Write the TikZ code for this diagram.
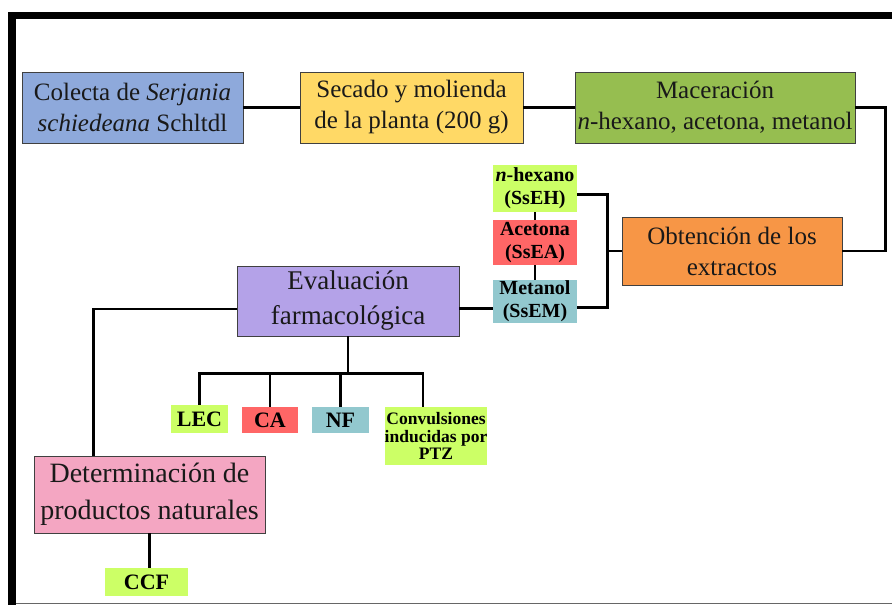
\documentclass[tikz,border=0pt]{standalone}
\usepackage{fontspec}
\setmainfont{Liberation Serif}
\usetikzlibrary{positioning}

\begin{document}
\begin{tikzpicture}[x=1pt,y=-1pt,thick,
	caja/.style={draw=black!75,line width=0.9pt,align=center,inner sep=0pt,text=black!90,font=\fontsize{25}{31}\selectfont},
	grande/.style={caja,font=\fontsize{27}{35}\selectfont},
	etiqueta/.style={align=center,inner sep=0pt,font=\bfseries\fontsize{20}{23}\selectfont},
	linea/.style={line width=2.4pt}]

\definecolor{azul}{RGB}{142,169,219}
\definecolor{amarillo}{RGB}{255,217,102}
\definecolor{oliva}{RGB}{150,190,80}
\definecolor{naranja}{RGB}{247,150,70}
\definecolor{lavanda}{RGB}{180,162,232}
\definecolor{rosa}{RGB}{244,166,194}
\definecolor{lima}{RGB}{204,255,102}
\definecolor{rojo}{RGB}{255,102,102}
\definecolor{celeste}{RGB}{146,200,206}

\def\kasten#1#2#3#4#5#6#7{
	\node[#6,minimum width={(#4-#2)*1pt},minimum height={(#5-#3)*1pt}]
		(#1) at ({(#2+#4)/2},{(#3+#5)/2}) {#7};
}

\useasboundingbox (0,0) rectangle (892,605);
\fill (8,12) rectangle (892,19);
\fill (8,12) rectangle (16,605);
\draw[line width=1pt,black!60] (16,603)--(892,603);

\kasten{colecta}{22}{72}{243}{143}{caja,fill=azul}{Colecta de \textit{Serjania}\\\textit{schiedeana} Schltdl}
\kasten{secado}{300}{72}{523}{143}{caja,fill=amarillo}{Secado y molienda\\de la planta (200 g)}
\kasten{maceracion}{575}{72}{855}{143}{caja,fill=oliva}{Maceración\\\textit{n}-hexano, acetona, metanol}
\kasten{obtencion}{622}{217}{842}{285}{caja,fill=naranja}{Obtención de los\\extractos}

\kasten{hexano}{493}{165}{577}{212}{etiqueta,fill=lima}{\textit{n}-hexano\\(SsEH)}
\kasten{acetona}{493}{220}{577}{265}{etiqueta,fill=rojo}{Acetona\\(SsEA)}
\kasten{metanol}{493}{280}{577}{323}{etiqueta,fill=celeste}{Metanol\\(SsEM)}

\kasten{evaluacion}{237}{266}{459}{336}{grande,fill=lavanda}{Evaluación\\farmacológica}
\kasten{lec}{171}{405}{228}{433}{etiqueta,fill=lima,font=\bfseries\fontsize{22}{24}\selectfont}{LEC}
\kasten{ca}{242}{407}{298}{433}{etiqueta,fill=rojo,font=\bfseries\fontsize{22}{24}\selectfont}{CA}
\kasten{nf}{312}{407}{369}{433}{etiqueta,fill=celeste,font=\bfseries\fontsize{22}{24}\selectfont}{NF}
\kasten{convulsiones}{385}{407}{487}{465}{etiqueta,fill=lima,font=\bfseries\fontsize{17.5}{17.5}\selectfont}{Convulsiones\\inducidas por\\PTZ}

\kasten{determinacion}{34}{456}{265}{533}{grande,fill=rosa,font=\fontsize{28}{37}\selectfont}{Determinación de\\productos naturales}
\kasten{ccf}{105}{568}{188}{596}{etiqueta,fill=lima,font=\bfseries\fontsize{22}{24}\selectfont}{CCF}

\coordinate (klammer) at ([xshift=-14pt]obtencion.west);
\coordinate (verteiler) at ([yshift=-37pt]evaluacion.south);

\draw[linea] (colecta.east)--(secado.west);
\draw[linea] (secado.east)--(maceracion.west);
\draw[linea] (maceracion.east)--++(30,0) |- (obtencion.east);
\draw[linea] (obtencion.west)--(klammer);
\draw[linea] ([yshift=-6pt]hexano.east) -| (klammer) |- ([yshift=-6pt]metanol.east);
\draw[linea] (hexano.south)--(acetona.north);
\draw[linea] (acetona.south)--(metanol.north);
\draw[linea] ([yshift=-7pt]metanol.west)--([yshift=-7pt]metanol.west -| evaluacion.east);
\draw[linea] ([yshift=-8pt]evaluacion.west) -| ([xshift=-56pt]determinacion.north);
\draw[linea] (evaluacion.south)--(verteiler);
\foreach \k in {lec,ca,nf}{
	\draw[linea] (\k.north) |- (verteiler);
}
\draw[linea] ([xshift=-13pt]convulsiones.north) |- (verteiler);
\draw[linea] (determinacion.south)--(determinacion.south |- ccf.north);

\end{tikzpicture}
\end{document}
